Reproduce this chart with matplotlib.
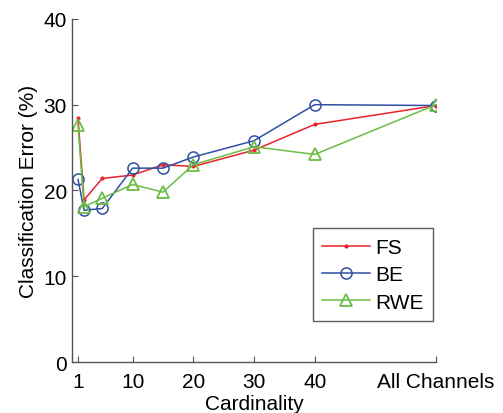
import matplotlib.pyplot as plt

plt.rcParams['font.family'] = ['Liberation Sans', 'DejaVu Sans']

# cardinality (All Channels placed at 60)
x = [1, 2, 5, 10, 15, 20, 30, 40, 60]
fs = [28.4, 18.9, 21.4, 21.8, 23.0, 22.8, 24.7, 27.7, 29.9]
be = [21.3, 17.7, 17.9, 22.6, 22.6, 23.9, 25.8, 30.0, 29.9]
rwe = [27.6, 18.1, 19.1, 20.7, 19.8, 23.0, 25.1, 24.2, 30.0]

xticks = [1, 10, 20, 30, 40, 60]
xticklabels = ['1', '10', '20', '30', '40', 'All Channels']
yticks = [0, 10, 20, 30, 40]

red = '#e8232b'
blue = '#2f4fa3'
green = '#6abd45'

fig = plt.figure(figsize=(5.03, 4.14), dpi=100)
ax = fig.add_axes([0.143, 0.123, 0.724, 0.829])

ax.plot(x, fs, color=red, lw=1.1, marker='.', ms=4, label='FS')
ax.plot(x, be, color=blue, lw=1.1, marker='o', ms=8, mfc='none', mew=1.1, label='BE')
ax.plot(x, rwe, color=green, lw=1.1, marker='^', ms=9, mfc='none', mew=1.3, label='RWE')

ax.set_xlim(0, 60)
ax.set_ylim(0, 40)
ax.set_xticks(xticks)
ax.set_xticklabels(xticklabels)
ax.set_yticks(yticks)

for s in ['top', 'right']:
    ax.spines[s].set_visible(False)
for s in ['left', 'bottom']:
    ax.spines[s].set_color('#555555')
    ax.spines[s].set_linewidth(1.0)

ax.tick_params(direction='in', length=4, width=0.8, color='#555555', labelsize=15)
ax.tick_params(axis='x', pad=7)
ax.set_xlabel('Cardinality', fontsize=15, labelpad=2)
ax.set_ylabel('Classification Error (%)', fontsize=15, labelpad=4)

leg = ax.legend(loc='lower right', bbox_to_anchor=(0.992, 0.12), fontsize=15,
                frameon=True, fancybox=False, handlelength=2.3, borderpad=0.45,
                labelspacing=0.4, handletextpad=0.25, borderaxespad=0)
leg.get_frame().set_edgecolor('#333333')
leg.get_frame().set_linewidth(1.0)

fig.savefig('out.png', dpi=100)
